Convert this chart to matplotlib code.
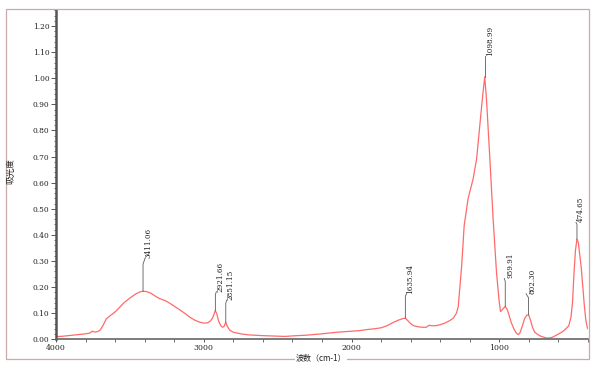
import numpy as np
import matplotlib
matplotlib.use('Agg')
import matplotlib.pyplot as plt
import matplotlib.transforms as mtransforms
from matplotlib.patches import Rectangle
from matplotlib.ticker import MultipleLocator, FuncFormatter

# IR spectrum (wavenumber cm-1, absorbance)
wavenumber = [4000, 3950, 3900, 3850, 3800, 3770, 3755, 3740, 3720, 3700,
              3680, 3660, 3630, 3600, 3570, 3540, 3500, 3460, 3430, 3411,
              3390, 3360, 3330, 3300, 3260, 3230, 3200, 3160, 3120, 3090,
              3060, 3030, 3000, 2975, 2955, 2940, 2932, 2922, 2912, 2900,
              2885, 2872, 2862, 2851, 2843, 2825, 2800, 2750, 2700, 2600,
              2500, 2450, 2400, 2300, 2200, 2100, 2000, 1950, 1900, 1850,
              1800, 1760, 1720, 1680, 1655, 1636, 1620, 1600, 1580, 1550,
              1520, 1495, 1475, 1460, 1430, 1400, 1369, 1334, 1312, 1290,
              1278, 1255, 1238, 1211, 1177, 1154, 1132, 1115, 1099, 1087,
              1064, 1042, 1019, 1002, 992, 978, 960, 945, 930, 918,
              900, 885, 872, 860, 845, 830, 815, 802, 790, 775,
              760, 740, 720, 700, 680, 660, 640, 620, 600, 570,
              545, 530, 515, 505, 495, 485, 475, 465, 455, 445,
              435, 425, 415, 405, 400]
absorbance = [0.010, 0.012, 0.015, 0.018, 0.021, 0.024, 0.031, 0.028, 0.029, 0.036,
              0.055, 0.078, 0.092, 0.105, 0.122, 0.140, 0.158, 0.174, 0.182, 0.184,
              0.183, 0.177, 0.166, 0.156, 0.148, 0.138, 0.127, 0.112, 0.096, 0.083,
              0.073, 0.066, 0.062, 0.063, 0.070, 0.082, 0.095, 0.110, 0.098, 0.070,
              0.052, 0.046, 0.050, 0.066, 0.052, 0.035, 0.027, 0.021, 0.017, 0.014,
              0.012, 0.011, 0.013, 0.016, 0.021, 0.027, 0.031, 0.033, 0.037, 0.040,
              0.044, 0.052, 0.064, 0.074, 0.079, 0.081, 0.072, 0.060, 0.052, 0.048,
              0.046, 0.046, 0.054, 0.052, 0.052, 0.056, 0.062, 0.072, 0.081, 0.100,
              0.126, 0.280, 0.435, 0.540, 0.615, 0.690, 0.820, 0.920, 1.005, 0.920,
              0.690, 0.460, 0.255, 0.150, 0.106, 0.115, 0.126, 0.112, 0.085, 0.062,
              0.038, 0.024, 0.018, 0.025, 0.050, 0.078, 0.092, 0.094, 0.075, 0.045,
              0.027, 0.018, 0.012, 0.008, 0.005, 0.005, 0.008, 0.014, 0.020, 0.030,
              0.043, 0.052, 0.085, 0.140, 0.250, 0.340, 0.383, 0.370, 0.320, 0.270,
              0.200, 0.130, 0.075, 0.045, 0.040]

# labelled peaks
peak_wn = [3411.06, 2921.66, 2851.15, 1635.94, 1098.99, 959.91, 802.30, 474.65]

# leader style per peak, in pixels: stem length, kink dx, kink dy, text dx
leader = [(27, 2, 6, 5), (16, 1, 3, 5), (19, 1, 3, 5), (22, 1, 2, 5),
          (20, 0, 1, 5), (25, -1, 3, 5), (17, -2.5, 4, 3.5), (15, -1, 2, 4)]

num_font = 'DejaVu Serif'
cjk_font = ['Noto Sans CJK SC', 'DejaVu Sans']
frame_col = '#c9aaaa'

fig = plt.figure(figsize=(5.96, 3.71), dpi=100)
ax = fig.add_axes([56 / 596, 1 - 339.3 / 371, 532 / 596, 329.8 / 371])

ax.plot(wavenumber, absorbance, color='#ff6a6a', lw=0.9)
ax.set_xlim(4000, 400)
ax.set_ylim(0, 1.263)
ax.set_autoscale_on(False)

ax.xaxis.set_major_locator(MultipleLocator(1000))
ax.xaxis.set_minor_locator(MultipleLocator(200))
ax.yaxis.set_major_locator(MultipleLocator(0.1))
ax.yaxis.set_minor_locator(MultipleLocator(0.02))
ax.yaxis.set_major_formatter(FuncFormatter(lambda v, p: f'{v:.2f}'))
ax.xaxis.set_major_formatter(FuncFormatter(lambda v, p: f'{v:.0f}'))

ax.tick_params(axis='y', which='major', length=3.5, width=0.7, pad=1.2,
               color='#555555', labelsize=5.4, labelcolor='#222222')
ax.tick_params(axis='y', which='minor', length=1.8, width=0.6, color='#555555')
ax.tick_params(axis='x', which='major', length=2.5, width=0.7, pad=1.2,
               color='#555555', labelsize=5.6, labelcolor='#222222')
ax.tick_params(axis='x', which='minor', length=2, width=0.6, color='#555555')
for lab in ax.get_xticklabels() + ax.get_yticklabels():
    lab.set_fontfamily(num_font)

ax.spines['left'].set_color('#555555')
ax.spines['left'].set_linewidth(1.8)
ax.spines['bottom'].set_color('#666666')
ax.spines['bottom'].set_linewidth(1.2)
ax.spines['top'].set_visible(False)
ax.spines['right'].set_visible(False)

# 0.00 label sits a little above the axis line
fig.canvas.draw()
ylabs = ax.get_yticklabels()
ylabs[0].set_va('bottom')

# peak markers: stem, small kink, rotated label
wn_inc = np.array(wavenumber[::-1], dtype=float)
ab_inc = np.array(absorbance[::-1], dtype=float)
for w, (stem, kx, ky, tdx) in zip(peak_wn, leader):
    a = np.interp(w, wn_inc, ab_inc)
    base = ax.transData.transform((w, a))
    t = mtransforms.Affine2D().translate(*base)
    ax.plot([0, 0, kx], [0, stem, stem + ky], transform=t, color='#5a5a5a',
            lw=0.6, clip_on=False)
    ax.annotate(f'{w:.2f}', xy=(w, a), xytext=(tdx, stem + ky),
                textcoords='offset pixels', rotation=90, ha='center', va='bottom',
                fontsize=5.2, family=num_font, color='#222222')

# outer frame and labels
fig.add_artist(Rectangle((6 / 596, 1 - 358.5 / 371), 582.5 / 596, 349.2 / 371,
                         transform=fig.transFigure, fill=False,
                         edgecolor=frame_col, lw=0.9, zorder=1))
fig.text(321 / 596, 1 - 358 / 371, '波数（cm-1）', ha='center', va='center',
         fontsize=5.8, family=cjk_font, color='#222222', zorder=5,
         bbox=dict(facecolor='white', edgecolor='none', pad=0.4))
fig.text(11 / 596, 1 - 171 / 371, '吸光度', rotation=90, ha='center', va='center',
         fontsize=6.2, family=cjk_font, color='#222222')

fig.savefig('out.png', dpi=100)
